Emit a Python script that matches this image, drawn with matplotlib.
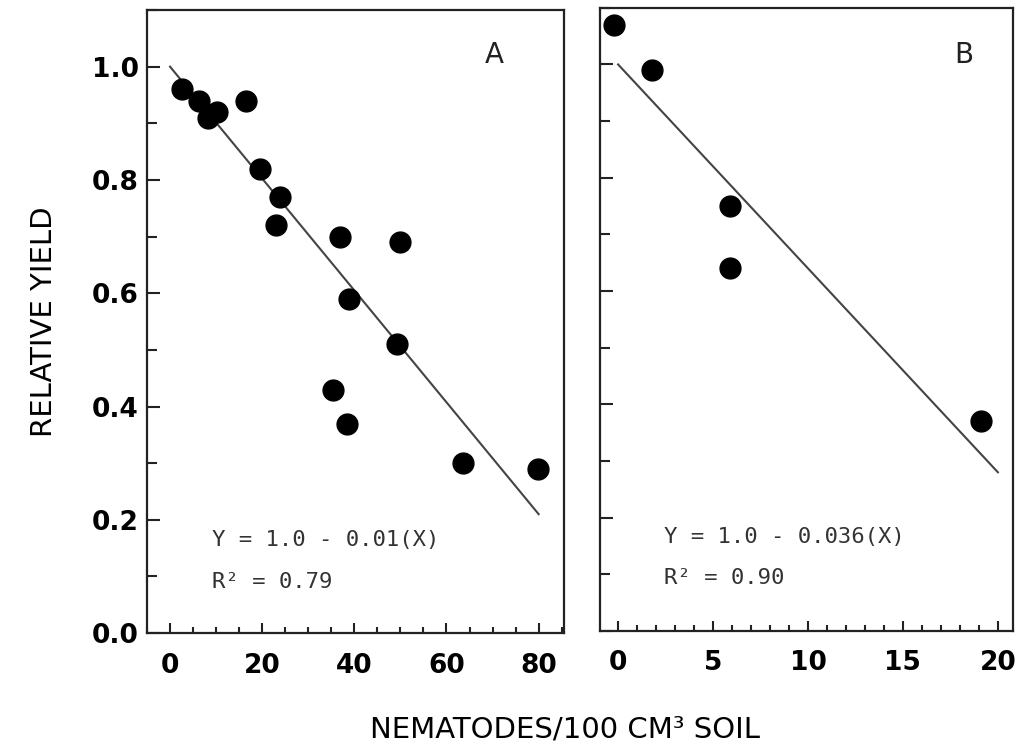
import matplotlib
matplotlib.use("Agg")
import matplotlib.pyplot as plt
from matplotlib.ticker import MultipleLocator

# Panel A data
a_x = [2.5, 6.3, 8.3, 10.2, 16.5, 19.6, 23.8, 22.9, 36.8, 50.0, 38.9, 49.2, 35.4, 38.3, 63.6, 79.8]
a_y = [0.96, 0.94, 0.91, 0.92, 0.94, 0.82, 0.77, 0.72, 0.70, 0.69, 0.59, 0.51, 0.43, 0.37, 0.30, 0.29]
a_fit_x = [0, 80]
a_fit_y = [1.0, 0.21]

# Panel B data
b_x = [-0.2, 1.8, 5.9, 5.9, 19.1]
b_y = [1.07, 0.99, 0.75, 0.64, 0.37]
b_fit_x = [0, 20]
b_fit_y = [1.0, 0.28]

a_xticks = [0, 20, 40, 60, 80]
b_xticks = [0, 5, 10, 15, 20]
yticks = [0.0, 0.2, 0.4, 0.6, 0.8, 1.0]

fig = plt.figure(figsize=(10.16, 7.51), dpi=100)
axA = fig.add_axes([0.1447, 0.157, 0.4104, 0.8296])
axB = fig.add_axes([0.5906, 0.160, 0.4065, 0.8296])

tick_font = dict(family="DejaVu Sans", size=19, weight="bold")
eq_font = dict(family="DejaVu Sans Mono", size=16, color="#333333")

for ax in (axA, axB):
    for s in ax.spines.values():
        s.set_linewidth(1.6)
        s.set_color("#222222")
    ax.set_ylim(0, 1.10)
    ax.yaxis.set_major_locator(MultipleLocator(0.2))
    ax.yaxis.set_minor_locator(MultipleLocator(0.1))
    ax.tick_params(axis="both", which="both", direction="in", color="#222222", width=1.5)
    ax.tick_params(axis="y", which="major", length=9, pad=6)
    ax.tick_params(axis="y", which="minor", length=7)
    ax.tick_params(axis="x", which="major", length=7, pad=14)
    ax.tick_params(axis="x", which="minor", length=4)

# Panel A
axA.plot(a_fit_x, a_fit_y, color="#444444", lw=1.5)
axA.plot(a_x, a_y, "o", color="black", ms=15, mec="black")
axA.set_xlim(-5, 85.5)
axA.set_xticks(a_xticks)
axA.xaxis.set_minor_locator(MultipleLocator(5))
axA.set_yticks(yticks)
axA.set_yticklabels(["%.1f" % v for v in yticks], fontdict=tick_font)
axA.set_xticklabels([str(v) for v in a_xticks], fontdict=tick_font)
axA.text(70.4, 1.02, "A", fontsize=20, family="DejaVu Sans", color="#222222",
         ha="center", va="center")
axA.text(9.2, 0.164, "Y = 1.0 - 0.01(X)", va="center", **eq_font)
axA.text(9.2, 0.090, "R² = 0.79", va="center", **eq_font)
axA.set_ylabel("RELATIVE YIELD", fontsize=21, family="DejaVu Sans", labelpad=24)

# Panel B
axB.plot(b_fit_x, b_fit_y, color="#444444", lw=1.5)
axB.plot(b_x, b_y, "o", color="black", ms=15, mec="black")
axB.set_xlim(-0.95, 20.8)
axB.set_xticks(b_xticks)
axB.xaxis.set_minor_locator(MultipleLocator(1))
axB.set_yticks(yticks)
axB.set_yticklabels([])
axB.set_xticklabels([str(v) for v in b_xticks], fontdict=tick_font)
axB.text(18.2, 1.016, "B", fontsize=20, family="DejaVu Sans", color="#222222",
         ha="center", va="center")
axB.text(2.4, 0.165, "Y = 1.0 - 0.036(X)", va="center", **eq_font)
axB.text(2.4, 0.093, "R² = 0.90", va="center", **eq_font)

fig.text(0.556, 0.028, "NEMATODES/100 CM³ SOIL", fontsize=21, family="DejaVu Sans",
         ha="center", va="center")

fig.savefig("out.png", dpi=100, facecolor="white")
